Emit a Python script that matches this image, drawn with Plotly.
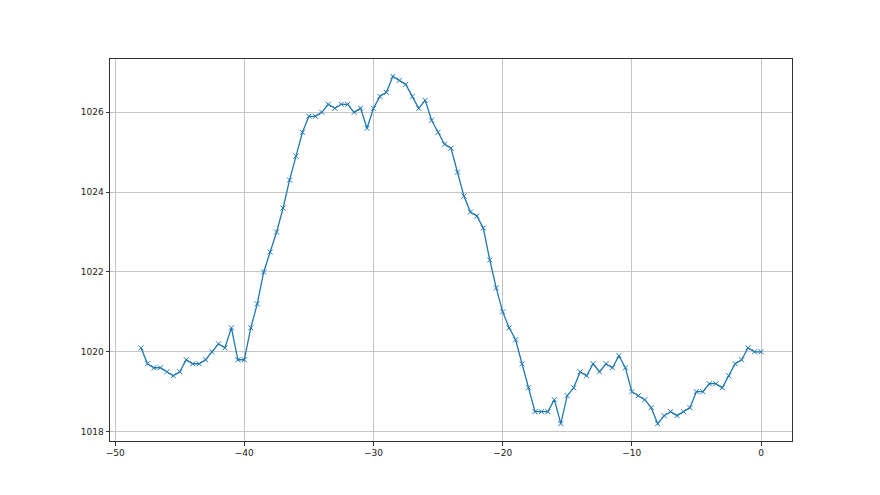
import plotly.graph_objects as go

x_vals = [-48, -47.5, -47, -46.5, -46, -45.5, -45, -44.5, -44, -43.5, -43, -42.5, -42, -41.5, -41, -40.5,
          -40, -39.5, -39, -38.5, -38, -37.5, -37, -36.5, -36, -35.5, -35, -34.5, -34, -33.5, -33, -32.5,
          -32, -31.5, -31, -30.5, -30, -29.5, -29, -28.5, -28, -27.5, -27, -26.5, -26, -25.5, -25, -24.5,
          -24, -23.5, -23, -22.5, -22, -21.5, -21, -20.5, -20, -19.5, -19, -18.5, -18, -17.5, -17, -16.5,
          -16, -15.5, -15, -14.5, -14, -13.5, -13, -12.5, -12, -11.5, -11, -10.5, -10, -9.5, -9, -8.5,
          -8, -7.5, -7, -6.5, -6, -5.5, -5, -4.5, -4, -3.5, -3, -2.5, -2, -1.5, -1, -0.5, 0]

pressure = [1020.1, 1019.7, 1019.6, 1019.6, 1019.5, 1019.4, 1019.5, 1019.8, 1019.7, 1019.7, 1019.8, 1020.0,
            1020.2, 1020.1, 1020.6, 1019.8, 1019.8, 1020.6, 1021.2, 1022.0, 1022.5, 1023.0, 1023.6, 1024.3,
            1024.9, 1025.5, 1025.9, 1025.9, 1026.0, 1026.2, 1026.1, 1026.2, 1026.2, 1026.0, 1026.1, 1025.6,
            1026.1, 1026.4, 1026.5, 1026.9, 1026.8, 1026.7, 1026.4, 1026.1, 1026.3, 1025.8, 1025.5, 1025.2,
            1025.1, 1024.5, 1023.9, 1023.5, 1023.4, 1023.1, 1022.3, 1021.6, 1021.0, 1020.6, 1020.3, 1019.7,
            1019.1, 1018.5, 1018.5, 1018.5, 1018.8, 1018.2, 1018.9, 1019.1, 1019.5, 1019.4, 1019.7, 1019.5,
            1019.7, 1019.6, 1019.9, 1019.6, 1019.0, 1018.9, 1018.8, 1018.6, 1018.2, 1018.4, 1018.5, 1018.4,
            1018.5, 1018.6, 1019.0, 1019.0, 1019.2, 1019.2, 1019.1, 1019.4, 1019.7, 1019.8, 1020.1, 1020.0,
            1020.0]

x_ticks = [-50, -40, -30, -20, -10, 0]
y_ticks = [1018, 1020, 1022, 1024, 1026]

color = "#1f77b4"

fig = go.Figure()
fig.add_trace(go.Scatter(
    x=x_vals, y=pressure, mode="lines+markers",
    line=dict(color=color, width=1.3),
    marker=dict(symbol="x-thin", size=5, color=color, line=dict(width=1, color=color)),
    showlegend=False,
))

axis_common = dict(
    showgrid=True, gridcolor="#c4c4c4", gridwidth=0.8,
    showline=True, linecolor="#333333", linewidth=1, mirror=True,
    ticks="outside", ticklen=3.5, tickcolor="#333333", tickwidth=1,
    zeroline=False,
    tickfont=dict(family="DejaVu Sans", size=9, color="#222222"),
)

fig.update_layout(
    width=872, height=487,
    margin=dict(l=102, r=88, t=51, b=54),
    paper_bgcolor="white", plot_bgcolor="white",
    xaxis=dict(range=[-50.4, 2.4], tickmode="array", tickvals=x_ticks, **axis_common),
    yaxis=dict(range=[1017.765, 1027.335], tickmode="array", tickvals=y_ticks, **axis_common),
)

fig.write_html("out.html")
